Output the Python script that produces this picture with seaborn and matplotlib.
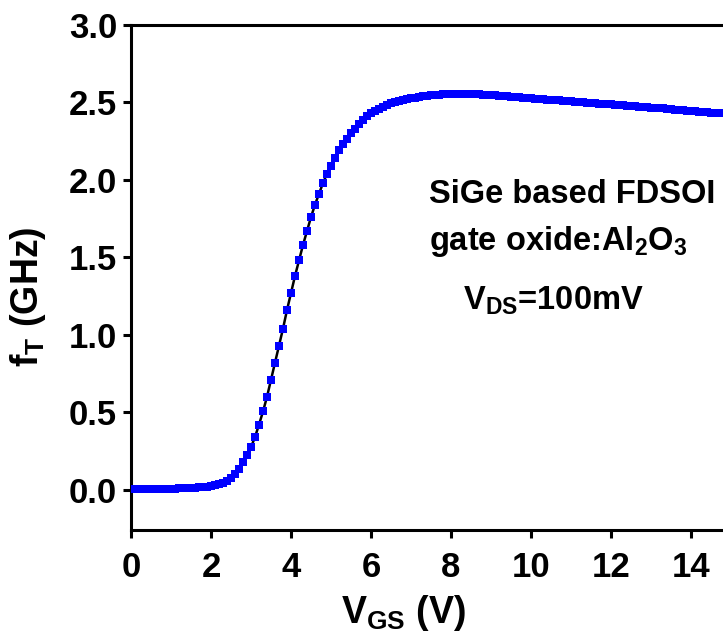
import numpy as np
import pandas as pd
import matplotlib
matplotlib.use("Agg")
import matplotlib.pyplot as plt
import seaborn as sns

# V_GS sweep (V), step 0.1
vgs = np.round(np.arange(0, 14.85, 0.1), 1)
# f_T (GHz)
ft = [
    0.003, 0.003, 0.003, 0.003, 0.004, 0.004, 0.004, 0.005, 0.005, 0.006, 0.006,
    0.007, 0.008, 0.009, 0.010, 0.011, 0.013, 0.015, 0.017, 0.020, 0.023,
    0.028, 0.035, 0.045, 0.058, 0.078, 0.100, 0.133, 0.176, 0.222, 0.275,
    0.34, 0.42, 0.505, 0.60, 0.71, 0.82, 0.93, 1.04, 1.16, 1.27,
    1.38, 1.48, 1.58, 1.67, 1.76, 1.84, 1.91, 1.98, 2.04, 2.09,
    2.14, 2.19, 2.23, 2.265, 2.30, 2.33, 2.36, 2.385, 2.41, 2.43,
    2.445, 2.46, 2.473, 2.485, 2.495, 2.503, 2.51, 2.517, 2.522, 2.527,
    2.531, 2.535, 2.539, 2.542, 2.545, 2.548, 2.55, 2.552, 2.553, 2.554,
    2.555, 2.555, 2.555, 2.555, 2.554, 2.553, 2.552, 2.551, 2.549, 2.547,
    2.545, 2.543, 2.541, 2.539, 2.537, 2.535, 2.533, 2.531, 2.529, 2.527,
    2.525, 2.523, 2.521, 2.519, 2.517, 2.515, 2.513, 2.511, 2.509, 2.507,
    2.505, 2.503, 2.501, 2.499, 2.497, 2.495, 2.493, 2.491, 2.489, 2.487,
    2.485, 2.483, 2.481, 2.479, 2.477, 2.475, 2.473, 2.471, 2.469, 2.467,
    2.465, 2.463, 2.461, 2.458, 2.456, 2.454, 2.452, 2.449, 2.447, 2.445,
    2.443, 2.441, 2.439, 2.437, 2.435, 2.433, 2.431, 2.429,
]
x_ticks = [0, 2, 4, 6, 8, 10, 12, 14]
y_ticks = [0.0, 0.5, 1.0, 1.5, 2.0, 2.5, 3.0]
y_tick_labels = ["0.0", "0.5", "1.0", "1.5", "2.0", "2.5", "3.0"]

df = pd.DataFrame({"VGS": vgs, "fT": ft})

sns.set_style("ticks")
plt.rcParams["font.family"] = ["Liberation Sans", "DejaVu Sans"]
plt.rcParams["font.weight"] = "bold"
plt.rcParams["text.color"] = "black"
plt.rcParams["axes.labelcolor"] = "black"
plt.rcParams["mathtext.fontset"] = "custom"
plt.rcParams["mathtext.rm"] = "Liberation Sans:bold"
plt.rcParams["mathtext.it"] = "Liberation Sans:bold"
plt.rcParams["mathtext.bf"] = "Liberation Sans:bold"

fig = plt.figure(figsize=(7.23, 6.44), dpi=100)
ax = fig.add_axes([131 / 723, 1 - 530 / 644, 592 / 723, 505 / 644])

sns.lineplot(data=df, x="VGS", y="fT", ax=ax, color="black", linewidth=1.8, zorder=2)
sns.scatterplot(data=df, x="VGS", y="fT", ax=ax, marker="s", s=30, color="#0000FF",
                linewidth=0, zorder=3)

ax.set_xlim(0, 14.8)
ax.set_ylim(-0.26, 3.0)
ax.set_xticks(x_ticks)
ax.set_xticklabels([str(t) for t in x_ticks])
ax.set_yticks(y_ticks)
ax.set_yticklabels(y_tick_labels)

for s in ["left", "bottom", "top"]:
    ax.spines[s].set_linewidth(2.2)
    ax.spines[s].set_color("black")
ax.spines["right"].set_visible(False)

ax.tick_params(axis="both", direction="out", length=6, width=2.2, labelsize=25,
               colors="black")
ax.tick_params(axis="x", pad=9)
ax.tick_params(axis="y", pad=4)
for lab in ax.get_xticklabels() + ax.get_yticklabels():
    lab.set_fontweight("bold")
    lab.set_color("black")

ax.set_xlabel(r"$\mathrm{V_{GS}}$ (V)", fontsize=27, fontweight="bold", color="black")
ax.set_ylabel(r"$\mathrm{f_{T}}$ (GHz)", fontsize=27, fontweight="bold", color="black")
ax.xaxis.set_label_coords(0.461, -0.165)
ax.yaxis.set_label_coords(-0.174, 0.461)
ax.xaxis.label.set_va("center")
ax.yaxis.label.set_va("center")

ax.text(7.45, 1.85, "SiGe based FDSOI", fontsize=23.5, fontweight="bold",
        ha="left", va="baseline", color="black")
ax.text(7.45, 1.55, r"gate oxide:Al$_\mathrm{2}$O$_\mathrm{3}$", fontsize=23.5,
        fontweight="bold", ha="left", va="baseline", color="black")
ax.text(8.3, 1.16, r"V$_\mathrm{DS}$=100mV", fontsize=23.5, fontweight="bold",
        ha="left", va="baseline", color="black")

fig.savefig("out.png", dpi=100)
